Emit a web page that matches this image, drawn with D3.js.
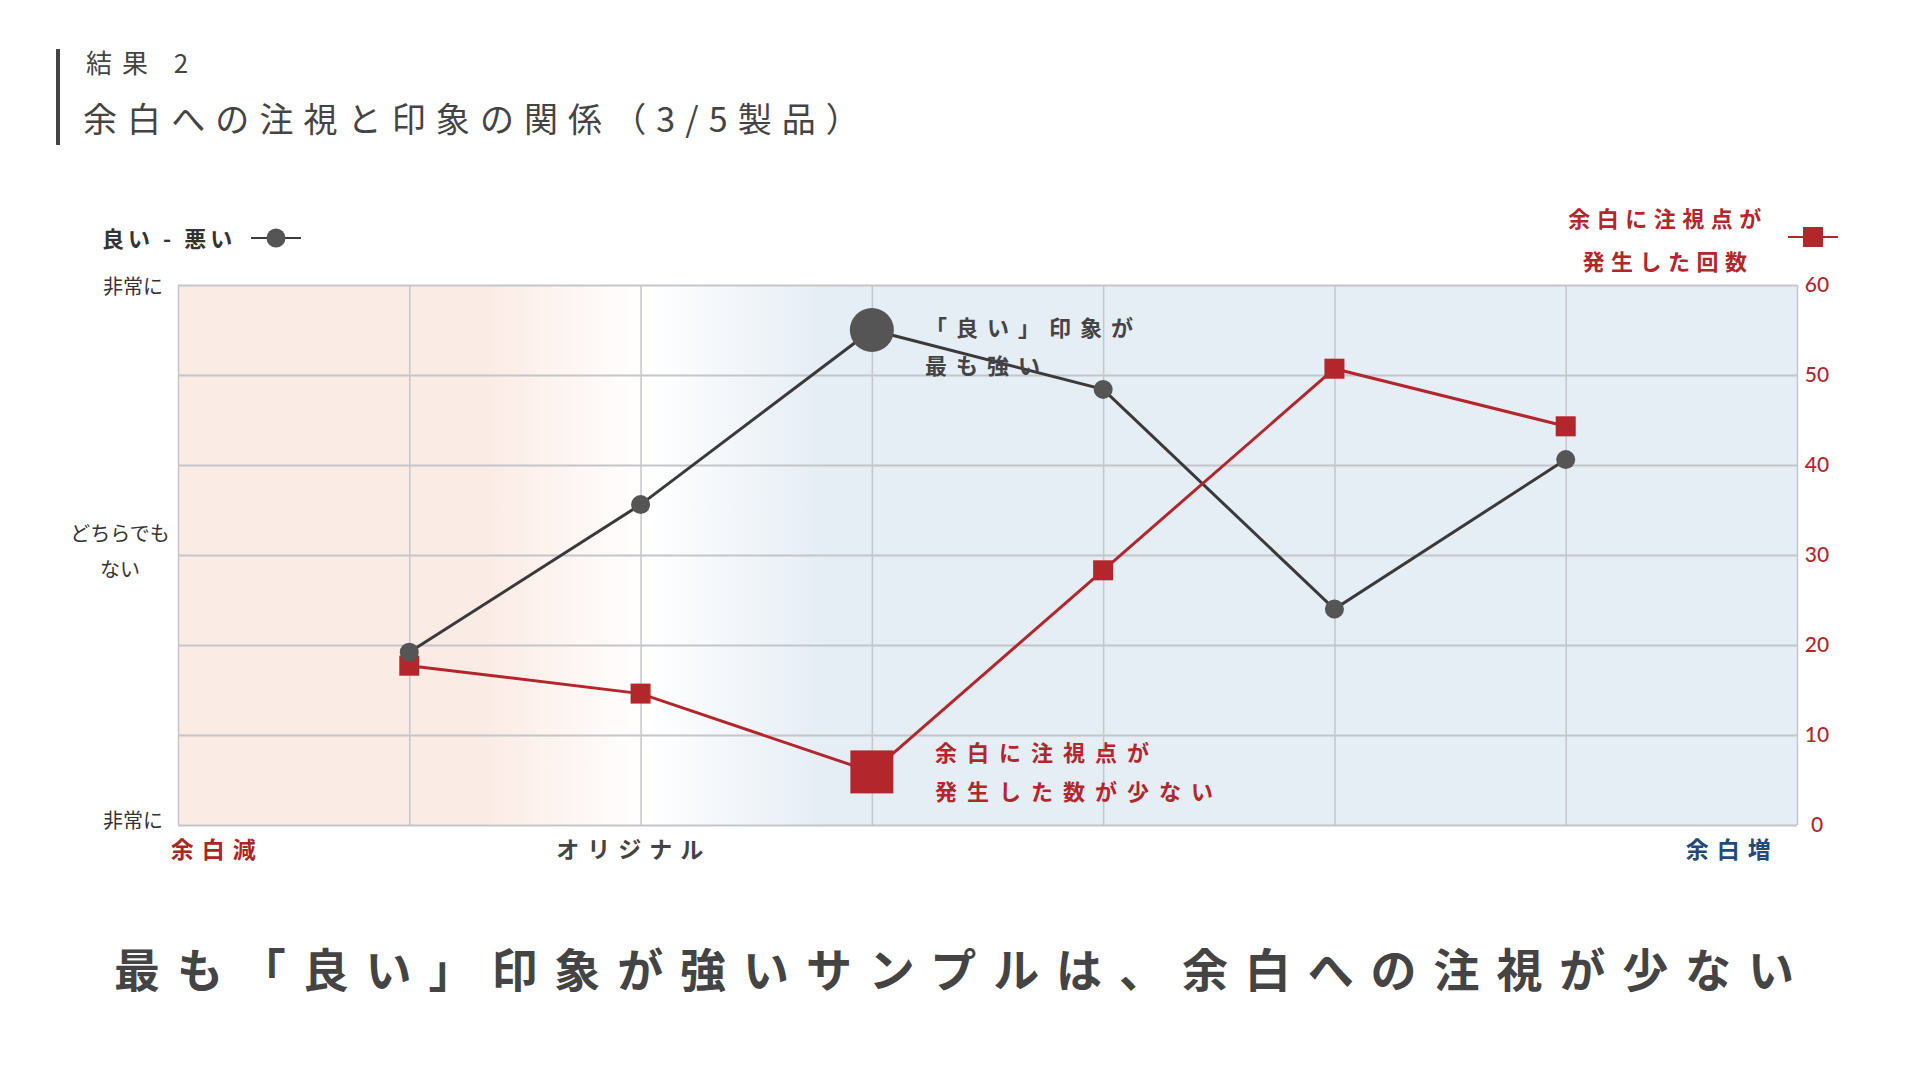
<!DOCTYPE html>
<html><head><meta charset="utf-8">
<script src="https://cdn.jsdelivr.net/npm/d3@7"></script>
<style>
html,body{margin:0;padding:0;background:#fff;}
svg{display:block;font-family:"Noto Sans CJK JP","Noto Sans",sans-serif;}
</style></head>
<body>
<svg id="c" width="1920" height="1080"></svg>
<script>
// ---- data ----
const samples = ["S1","S2","S3","S4","S5","S6"];
const impression = [-1.08, 0.56, 2.5, 1.84, -0.60, 1.06];   // 良い - 悪い (left axis, -3..3)
const gazeCount = [17.7, 14.6, 5.9, 28.3, 50.7, 44.3];      // 余白に注視点が発生した回数 (right axis)
const rightTicks = [0,10,20,30,40,50,60];
const leftTickLabels = [{v:3,t:["非常に"]},{v:0,t:["どちらでも","ない"]},{v:-3,t:["非常に"]}];
const xLabels = [{pos:0.17,t:"余白減",c:"#a8281f"},{pos:1.97,t:"オリジナル",c:"#444"},{pos:6.72,t:"余白増",c:"#1f4a7a"}];
const highlightIndex = 2;

const svg = d3.select("#c");
const L=178, R=1797, T=285, B=825;
const x = d3.scaleLinear().domain([0,7]).range([L,R]);
const yL = d3.scaleLinear().domain([-3,3]).range([B,T]);
const yR = d3.scaleLinear().domain([0,60]).range([B,T]);
const RED="#b3262b", DARK="#3a3a3a", MARK="#555";

// background gradient
const defs = svg.append("defs");
const g = defs.append("linearGradient").attr("id","bg").attr("x1","0").attr("x2","1").attr("y1","0").attr("y2","0");
[[0,"#fbebe5"],[0.19,"#fbebe5"],[0.29,"#ffffff"],[0.40,"#e5edf5"],[1,"#e5edf5"]].forEach(s=>g.append("stop").attr("offset",s[0]).attr("stop-color",s[1]));
svg.append("rect").attr("x",L).attr("y",T).attr("width",R-L).attr("height",B-T).attr("fill","url(#bg)");

// grid
svg.append("g").attr("transform",`translate(0,${B})`)
  .call(d3.axisBottom(x).ticks(7).tickSize(-(B-T)).tickFormat(""))
  .call(a=>a.select(".domain").remove())
  .call(a=>a.selectAll("line").attr("stroke","#c4c6ca").attr("stroke-width",1.5));
svg.append("g").attr("transform",`translate(${L},0)`)
  .call(d3.axisLeft(yR).tickValues(rightTicks).tickSize(-(R-L)).tickFormat(""))
  .call(a=>a.select(".domain").remove())
  .call(a=>a.selectAll("line").attr("stroke","#c4c6ca").attr("stroke-width",2));

// right axis labels
svg.append("g").attr("transform",`translate(${R},0)`)
  .call(d3.axisRight(yR).tickValues(rightTicks).tickSize(0).tickPadding(12))
  .call(a=>a.select(".domain").remove())
  .call(a=>a.selectAll("text").attr("fill",RED).attr("font-size",21).attr("font-family","Lato,'Noto Sans',sans-serif").attr("font-weight",500).attr("x",20).attr("text-anchor","middle"));

// left labels
leftTickLabels.forEach(d=>{
  const t = svg.append("text").attr("font-size",20).attr("fill","#333").attr("text-anchor", d.t.length>1?"middle":"end");
  d.t.forEach((s,i)=>{
    t.append("tspan").attr("x", d.t.length>1?120:163)
     .attr("y", yL(d.v) + (d.t.length>1 ? -14 + i*36 : (d.v>0?9:3)) ).text(s);
  });
});

// x labels
xLabels.forEach(d=>{
  svg.append("text").attr("x",x(d.pos)).attr("y",858).attr("text-anchor","middle")
    .attr("font-size",23).attr("font-weight",700).attr("letter-spacing",8).attr("fill",d.c).text(d.t);
});

// lines
const lineL = d3.line().x((d,i)=>x(i+1)).y(d=>yL(d));
const lineR = d3.line().x((d,i)=>x(i+1)).y(d=>yR(d));
svg.append("path").datum(impression).attr("d",lineL).attr("fill","none").attr("stroke",DARK).attr("stroke-width",3);
svg.append("path").datum(gazeCount).attr("d",lineR).attr("fill","none").attr("stroke",RED).attr("stroke-width",3);
svg.selectAll(".sq").data(gazeCount).join("rect")
  .attr("x",(d,i)=>x(i+1)-(i===highlightIndex?21.5:10)).attr("y",(d,i)=>yR(d)-(i===highlightIndex?21.5:10))
  .attr("width",(d,i)=>i===highlightIndex?43:20).attr("height",(d,i)=>i===highlightIndex?43:20).attr("fill",RED);
svg.selectAll(".ci").data(impression).join("circle")
  .attr("cx",(d,i)=>x(i+1)).attr("cy",d=>yL(d)).attr("r",(d,i)=>i===highlightIndex?22:9.5).attr("fill",MARK);

// annotations
function multi(xp, ys, lines, color, size, ls, anchor){
  lines.forEach((s,i)=>svg.append("text").attr("x",xp).attr("y",ys[i]).attr("font-size",size).attr("font-weight",700)
    .attr("letter-spacing",ls).attr("fill",color).attr("text-anchor",anchor||"start").text(s));
}
multi(925,[336,374],["「良い」印象が","最も強い"],"#444",22,9);
multi(935,[761,800],["余白に注視点が","発生した数が少ない"],RED,22,10);

// legends
svg.append("text").attr("x",102).attr("y",247).attr("font-size",22).attr("font-weight",700).attr("fill","#333").attr("letter-spacing",4).text("良い - 悪い");
svg.append("line").attr("x1",251).attr("x2",301).attr("y1",238).attr("y2",238).attr("stroke",DARK).attr("stroke-width",2);
svg.append("circle").attr("cx",276).attr("cy",238).attr("r",9.5).attr("fill",MARK);
multi(1668,[227,270],["余白に注視点が","発生した回数"],RED,22,6.5,"middle");
svg.append("line").attr("x1",1788).attr("x2",1838).attr("y1",237).attr("y2",237).attr("stroke",RED).attr("stroke-width",2);
svg.append("rect").attr("x",1803).attr("y",227).attr("width",20).attr("height",20).attr("fill",RED);

// titles
svg.append("rect").attr("x",56).attr("y",49).attr("width",4).attr("height",96).attr("fill","#444");
svg.append("text").attr("x",86).attr("y",73).attr("font-size",26).attr("font-weight",400).attr("letter-spacing",10).attr("fill","#444").text("結果 2");
svg.append("text").attr("x",83).attr("y",132).attr("font-size",34).attr("font-weight",400).attr("letter-spacing",10.1).attr("fill","#444").text("余白への注視と印象の関係（3/5製品）");
svg.append("text").attr("x",114).attr("y",987).attr("font-size",46).attr("font-weight",700).attr("letter-spacing",16.9).attr("fill","#444").text("最も「良い」印象が強いサンプルは、余白への注視が少ない");
</script>
</body></html>
